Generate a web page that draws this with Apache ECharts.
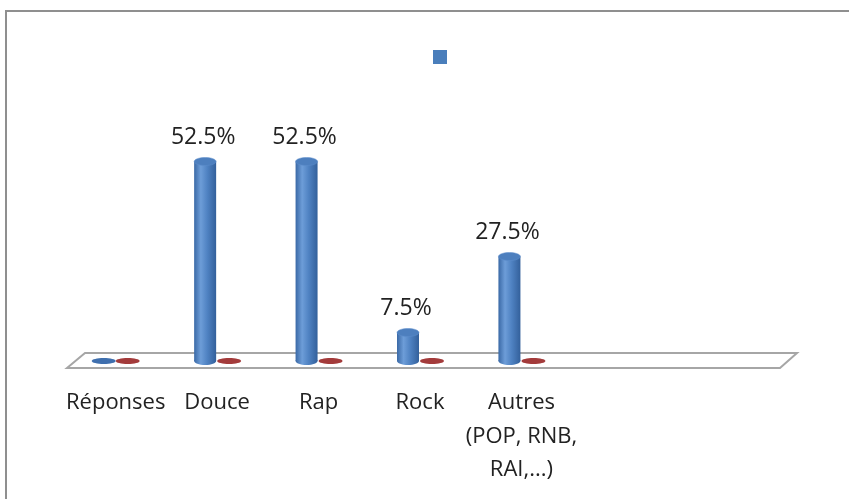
<!DOCTYPE html>
<html>
<head>
<meta charset="utf-8">
<script src="https://cdn.jsdelivr.net/npm/echarts@6/dist/echarts.min.js"></script>
<style>
  html, body { margin: 0; padding: 0; background: #fff; }
  #chart { width: 849px; height: 499px; }
</style>
</head>
<body>
<div id="chart"></div>
<script>
// categories (two empty slots at the end, as in the original sheet)
const categories = ['Réponses', 'Douce', 'Rap', 'Rock', 'Autres\n(POP, RNB,\nRAI,...)', '', '']
const blueValues = [0, 52.5, 52.5, 7.5, 27.5, null, null]
const redValues = [0, 0, 0, 0, 0, null, null]

const FONT = 'Open Sans'

// cylinder drawn through the axis scales
function cylinder (offset, kind) {
  return function (params, api) {
    const cat = api.value(0)
    const val = api.value(1)
    if (isNaN(val)) return
    const base = api.coord([cat, 0])
    const top = api.coord([cat, val])
    const cx = base[0] + offset
    const rx = 11
    const ry = 4
    const children = []
    if (kind === 'red' || val === 0) {
      children.push({
        type: 'ellipse',
        shape: { cx: cx, cy: base[1], rx: rx + 1, ry: 3 },
        style: { fill: kind === 'red' ? '#a33b3b' : '#3f6fae' }
      })
      return { type: 'group', children: children }
    }
    const body = new echarts.graphic.LinearGradient(0, 0, 1, 0, [
      { offset: 0, color: '#3a69a6' },
      { offset: 0.3, color: '#6d9dd8' },
      { offset: 0.6, color: '#4f82c2' },
      { offset: 1, color: '#33609b' }
    ])
    children.push({
      type: 'ellipse',
      shape: { cx: cx, cy: base[1], rx: rx, ry: ry },
      style: { fill: body }
    })
    children.push({
      type: 'rect',
      shape: { x: cx - rx, y: top[1], width: rx * 2, height: base[1] - top[1] },
      style: { fill: body }
    })
    children.push({
      type: 'ellipse',
      shape: { cx: cx, cy: top[1], rx: rx, ry: ry },
      style: { fill: '#4d7fbe', stroke: '#5f8fcc', lineWidth: 0.5 }
    })
    children.push({
      type: 'text',
      style: {
        x: cx - 2,
        y: top[1] - 13,
        text: val + '%',
        align: 'center',
        verticalAlign: 'bottom',
        fontFamily: FONT,
        fontSize: 23,
        fill: '#222'
      }
    })
    return { type: 'group', children: children }
  }
}

let myChart = echarts.init(document.getElementById('chart'))
myChart.setOption({
  animation: false,
  backgroundColor: '#fff',
  graphic: [
    {
      type: 'rect',
      shape: { x: 6, y: 11, width: 900, height: 600 },
      style: { fill: 'none', stroke: '#8f8f8f', lineWidth: 2 },
      z: -1
    },
    {
      type: 'polygon',
      shape: { points: [[67, 368], [85, 353], [797, 353], [780, 368]] },
      style: { fill: '#fff', stroke: '#a6a6a6', lineWidth: 2 },
      z: -1
    }
  ],
  legend: {
    left: 428,
    top: 45,
    itemWidth: 14,
    itemHeight: 14,
    icon: 'rect',
    data: ['Série1'],
    formatter: function () { return '' }
  },
  grid: {
    left: 65,
    right: 74,
    top: 133,
    bottom: 138
  },
  xAxis: {
    type: 'category',
    data: categories,
    axisLine: { show: false },
    axisTick: { show: false },
    axisLabel: {
      interval: 0,
      margin: 25,
      fontFamily: FONT,
      fontSize: 22,
      lineHeight: 33.5,
      color: '#222'
    }
  },
  yAxis: {
    type: 'value',
    min: 0,
    max: 60,
    show: false
  },
  series: [
    {
      name: 'Série1',
      type: 'custom',
      itemStyle: { color: '#4a7ebb' },
      renderItem: cylinder(-12, 'blue'),
      data: blueValues.map(function (v, i) { return [i, v] }),
      z: 3
    },
    {
      name: 'Série2',
      type: 'custom',
      itemStyle: { color: '#a33b3b' },
      renderItem: cylinder(12, 'red'),
      data: redValues.map(function (v, i) { return [i, v] }),
      z: 2
    }
  ]
})
</script>
</body>
</html>
